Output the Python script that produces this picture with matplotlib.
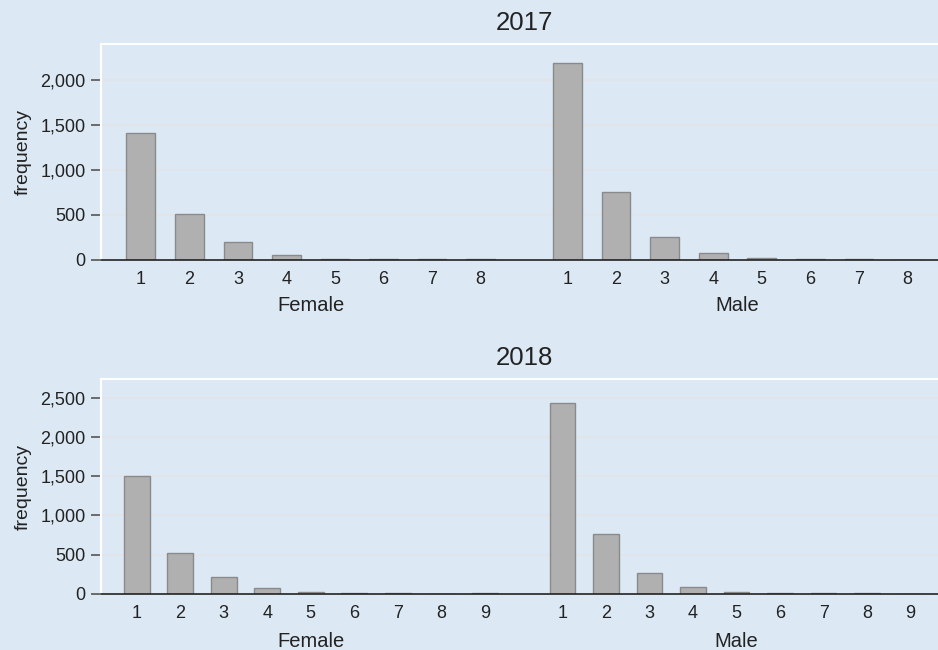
import numpy as np
import matplotlib
matplotlib.use("Agg")
import matplotlib.pyplot as plt
from matplotlib.ticker import FuncFormatter

plt.rcParams['font.family'] = ['Liberation Sans', 'DejaVu Sans']

# counts per category
female_2017 = [1413, 505, 202, 58, 10, 6, 6, 6]
male_2017 = [2181, 755, 255, 81, 26, 8, 8, 0]
female_2018 = [1503, 518, 212, 81, 22, 9, 7, 0, 8]
male_2018 = [2436, 764, 263, 89, 21, 8, 8, 8, 0]

years = ["2017", "2018"]
groups = ["Female", "Male"]
yticks_2017 = [0, 500, 1000, 1500, 2000]
yticks_2018 = [0, 500, 1000, 1500, 2000, 2500]
ytop = [2394, 2737]

BG = '#dce9f5'
BAR = '#b0b0b0'
EDGE = '#8a8a8a'
GRID = '#e3e5e8'

fig = plt.figure(figsize=(9.38, 6.5), dpi=100)
fig.patch.set_facecolor(BG)

# axes boxes in figure fractions (left, bottom, width, height)
boxes = [[101/938, 0.6, 837/938, 216/650],
         [101/938, 56/650, 837/938, 215/650]]
title_y = [1 - 23/650, 1 - 358/650]
group_y = [-0.212, -0.222]

panels = [(female_2017, male_2017, yticks_2017),
          (female_2018, male_2018, yticks_2018)]

for i, (fem, mal, yt) in enumerate(panels):
    ax = fig.add_axes(boxes[i])
    ax.set_facecolor(BG)
    n = len(fem)
    xf = np.arange(n)
    xm = np.arange(n) + n + 0.79
    ax.bar(xf, fem, width=0.59, color=BAR, edgecolor=EDGE, linewidth=1, zorder=3)
    ax.bar(xm, mal, width=0.59, color=BAR, edgecolor=EDGE, linewidth=1, zorder=3)

    ax.set_xlim(-0.82, xm[-1] + 0.63)
    ax.set_ylim(0, ytop[i])
    ax.set_yticks(yt)
    ax.yaxis.set_major_formatter(FuncFormatter(lambda v, p: f"{int(v):,}"))
    for v in yt[1:]:
        ax.axhline(v, color=GRID, linewidth=1.2, zorder=1)

    ax.set_xticks(np.concatenate([xf, xm]))
    ax.set_xticklabels([str(k + 1) for k in range(n)] * 2)
    ax.tick_params(axis='x', length=0, pad=8, labelsize=13, colors='#222222')
    ax.tick_params(axis='y', length=7, width=1.2, color='#555555', pad=4,
                   labelsize=13, labelcolor='#222222')

    for s in ['top', 'left']:
        ax.spines[s].set_color('white')
        ax.spines[s].set_linewidth(1.5)
    ax.spines['right'].set_visible(False)
    ax.spines['bottom'].set_color('#222222')
    ax.spines['bottom'].set_linewidth(1.2)
    ax.spines['bottom'].set_zorder(4)

    ax.set_ylabel("frequency", fontsize=14, color='#222222', labelpad=6)

    # group labels under each set of bars
    ax.text(xf.mean(), group_y[i], groups[0], transform=ax.get_xaxis_transform(),
            ha='center', va='center', fontsize=14.5, color='#222222')
    ax.text(xm.mean(), group_y[i], groups[1], transform=ax.get_xaxis_transform(),
            ha='center', va='center', fontsize=14.5, color='#222222')

    fig.text(524/938, title_y[i], years[i], ha='center', va='center',
             fontsize=18.5, color='#222222')

fig.savefig("out.png", dpi=100, facecolor=BG)
